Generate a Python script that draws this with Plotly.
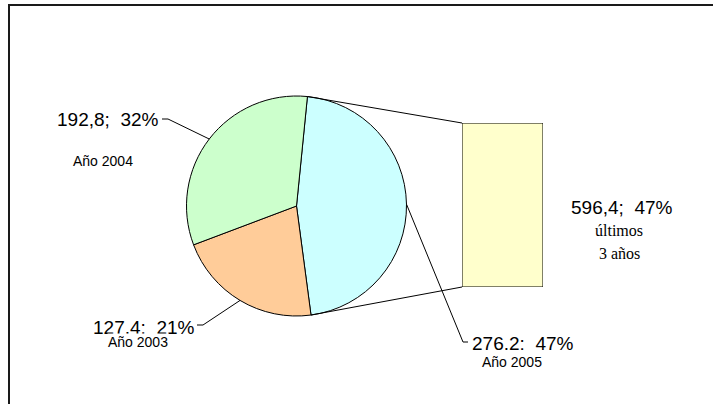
import math
import plotly.graph_objects as go

# ---------------- data ----------------
years = ["Año 2005", "Año 2003", "Año 2004"]
values = [276.2, 127.4, 192.8]
value_labels = ["276.2:  47%", "127,4;  21%", "192,8;  32%"]
slice_colors = ["#CCFFFF", "#FFCC99", "#CCFFCC"]

bar_category = ["últimos 3 años"]
bar_values = [596.4]
bar_label = "596,4;  47%"
bar_sub_lines = ["últimos", "3 años"]

# ---------------- geometry (pixels) ----------------
W, H = 713, 404
cx, cy, R = 296.5, 206.0, 110.0
rotation = 5.7
bx0, bx1, by0, by1 = 462, 543, 123, 287


def px(x):
    return x / W


def py(y):
    return 1 - y / H


total = sum(values)
starts, ends, mids = [], [], []
acc = 0.0
for v in values:
    a0 = rotation + 360 * acc / total
    a1 = rotation + 360 * (acc + v) / total
    starts.append(a0)
    ends.append(a1)
    mids.append((a0 + a1) / 2)
    acc += v


def edge(a):
    r = math.radians(a)
    return cx + R * math.sin(r), cy - R * math.cos(r)


fig = go.Figure()

fig.add_trace(go.Pie(
    labels=years, values=values, sort=False, direction="clockwise",
    rotation=rotation, textinfo="none", hoverinfo="label+value+percent",
    marker=dict(colors=slice_colors, line=dict(color="black", width=1)),
    domain=dict(x=[px(cx - R), px(cx + R)], y=[py(cy + R), py(cy - R)]),
    showlegend=False,
))

fig.add_trace(go.Bar(
    x=bar_category, y=bar_values, width=1,
    marker=dict(color="#FFFFCC", line=dict(color="black", width=1)),
    xaxis="x", yaxis="y", showlegend=False, hoverinfo="y",
))

shapes = []


def seg(p, q, w=1):
    shapes.append(dict(type="line", xref="paper", yref="paper",
                       x0=px(p[0]), y0=py(p[1]), x1=px(q[0]), y1=py(q[1]),
                       line=dict(color="black", width=w), layer="above"))


# connectors pie -> bar
seg(edge(starts[0]), (bx0, by0))
seg(edge(ends[0]), (bx0, by1))

# leader lines
bends = [((463, 342), (468, 342)), ((203, 325), (197, 325)), ((168, 119), (162, 119))]
for m, (b1, b2) in zip(mids, bends):
    seg(edge(m), b1)
    seg(b1, b2)

# outer frame (open at right/bottom, as in reference)
shapes.append(dict(type="rect", xref="paper", yref="paper",
                   x0=px(9), y0=py(5), x1=px(W + 20), y1=py(H + 20),
                   line=dict(color="#1a1a1a", width=2), fillcolor="rgba(0,0,0,0)",
                   layer="above"))

sans = "Liberation Sans, Arial, sans-serif"
serif = "Liberation Serif, Times New Roman, serif"


def ann(text, x, y, size, family=sans, bg=None):
    d = dict(text=text, xref="paper", yref="paper", x=px(x), y=py(y),
             xanchor="center", yanchor="middle", showarrow=False,
             font=dict(family=family, size=size, color="black"))
    if bg:
        d["bgcolor"] = bg
        d["borderpad"] = 0
    return d


annotations = [
    ann(value_labels[2], 108, 119, 19),
    ann(years[2], 103, 161, 14),
    ann(value_labels[1], 144, 327, 19),
    ann(years[1], 138, 342, 14, bg="white"),
    ann(value_labels[0], 523, 343, 19),
    ann(years[0], 512, 362, 14),
    ann(bar_label, 622, 207, 19),
    ann(bar_sub_lines[0], 619, 231, 16, family=serif),
    ann(bar_sub_lines[1], 619, 253, 16, family=serif),
]

fig.update_layout(
    width=W, height=H,
    margin=dict(l=0, r=0, t=0, b=0),
    paper_bgcolor="white", plot_bgcolor="rgba(0,0,0,0)",
    xaxis=dict(domain=[px(bx0), px(bx1)], range=[-0.5, 0.5], visible=False,
               fixedrange=True),
    yaxis=dict(domain=[py(by1), py(by0)], range=[0, bar_values[0]], visible=False,
               fixedrange=True),
    shapes=shapes,
    annotations=annotations,
    showlegend=False,
)

fig.write_html(
    "out.html",
    config={"displayModeBar": False},
    post_script="document.body.style.margin='0px';document.body.style.overflow='hidden';",
)
